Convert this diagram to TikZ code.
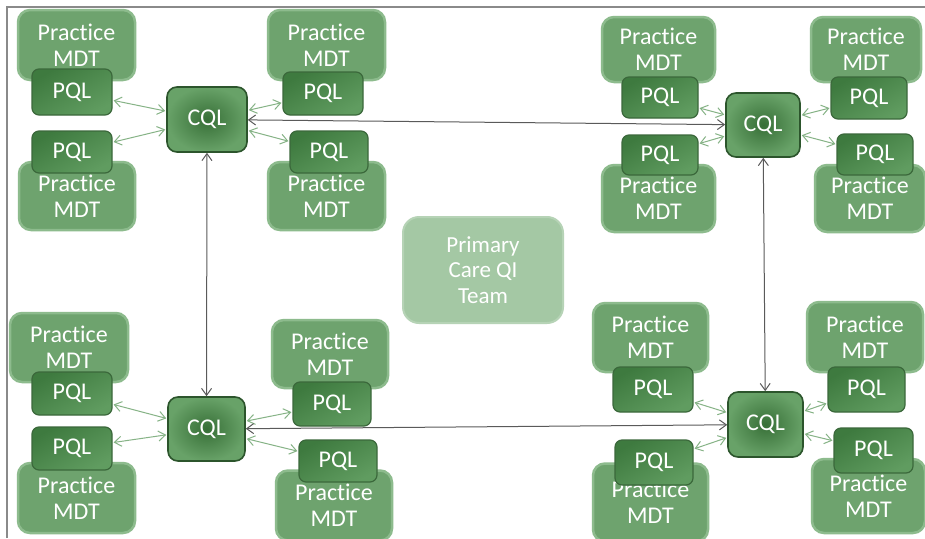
\documentclass[tikz,border=0pt]{standalone}
\usepackage{fontspec}
\setmainfont{Carlito}[Ligatures={NoCommon,NoRare,NoDiscretionary}]
\usetikzlibrary{arrows.meta}
\definecolor{mdtfill}{HTML}{6EA36E}
\definecolor{mdtedge}{HTML}{8DBB8D}
\definecolor{pqldark}{HTML}{3E7A3F}
\definecolor{pqllight}{HTML}{609C60}
\definecolor{pqledge}{HTML}{3B683B}
\definecolor{cqlin}{HTML}{376F37}
\definecolor{cqlout}{HTML}{68A268}
\definecolor{cqledge}{HTML}{2C552C}
\definecolor{teamfill}{HTML}{A4C8A4}
\definecolor{teamedge}{HTML}{B6D3B6}
\definecolor{linkgreen}{HTML}{86B386}
\definecolor{linkgray}{HTML}{5A5A5A}
\definecolor{framegray}{HTML}{8A8A8A}
\tikzset{
  boxtext/.style={text=white, align=center, inner sep=0pt,
    font=\fontsize{24}{26}\selectfont},
  mdt/.style={boxtext, fill=mdtfill, draw=mdtedge, line width=2.5pt,
    rounded corners=12pt},
  pql/.style={boxtext, draw=pqledge, line width=1.2pt, rounded corners=7pt,
    top color=pqldark, bottom color=pqllight, shading angle=30},
  cql/.style={boxtext, draw=cqledge, line width=1.6pt, rounded corners=10pt,
    inner color=cqlin, outer color=cqlout,
    minimum width=76pt, minimum height=64pt},
  team/.style={boxtext, fill=teamfill, draw=teamedge, line width=2pt,
    rounded corners=16pt, font=\fontsize{23}{25.5}\selectfont},
  pqlink/.style={draw=linkgreen, line width=1pt,
    {Straight Barb[length=7pt,width=10pt]}-{Straight Barb[length=7pt,width=10pt]}},
  cqlink/.style={draw=linkgray, line width=1pt,
    {Straight Barb[length=7pt,width=10pt]}-{Straight Barb[length=7pt,width=10pt]}},
}
\newcommand{\mdtbox}[5]{\node[mdt, minimum width=#4pt, minimum height=#5pt] (#1) at (#2,#3) {Practice\\MDT};}
\newcommand{\pqlbox}[5]{\node[pql, minimum width=#4pt, minimum height=#5pt] (#1) at (#2,#3) {PQL};}
\begin{document}
\begin{tikzpicture}[x=1pt, y=-1pt]
\useasboundingbox (0,0) rectangle (925,538);
\fill[white] (0,0) rectangle (925,538);
% outer frame (top and left edges)
\draw[framegray, line width=1.5pt] (7,538) -- (7,7) -- (925,7);

% ---------- group top left ----------
\mdtbox{m11}{76.5}{45}{117}{70}
\mdtbox{m12}{326.5}{45}{117}{70}
\mdtbox{m13}{77}{196}{116}{68}
\mdtbox{m14}{326.5}{196}{117}{68}
\pqlbox{p11}{72}{92}{80}{46}
\pqlbox{p12}{323}{93.5}{80}{43}
\pqlbox{p13}{72}{152}{80}{42}
\pqlbox{p14}{329}{152}{78}{42}
\node[cql, minimum width=80pt, minimum height=65pt] (c1) at (207,119.5) {CQL};

% ---------- group top right ----------
\mdtbox{m21}{658.5}{49.5}{113}{65}
\mdtbox{m22}{866}{49.5}{110}{65}
\mdtbox{m23}{658.5}{198.5}{113}{67}
\mdtbox{m24}{870}{198.5}{110}{67}
\pqlbox{p21}{660}{97.5}{76}{41}
\pqlbox{p22}{869}{98}{76}{42}
\pqlbox{p23}{660}{155}{76}{40}
\pqlbox{p24}{875}{154.5}{76}{41}
\node[cql, minimum width=74pt, minimum height=64pt] (c2) at (763,125) {CQL};

% ---------- group bottom left ----------
\mdtbox{m31}{69}{347.5}{118}{69}
\mdtbox{m32}{330}{354}{116}{68}
\mdtbox{m33}{76.5}{498}{117}{70}
\mdtbox{m34}{334}{505.5}{116}{70}
\pqlbox{p31}{72}{393.5}{80}{43}
\pqlbox{p32}{332}{404}{78}{44}
\pqlbox{p33}{72}{448.5}{80}{43}
\pqlbox{p34}{338}{461}{78}{42}
\node[cql, minimum width=77pt, minimum height=64pt] (c3) at (206.5,429) {CQL};

% ---------- group bottom right ----------
\mdtbox{m41}{650.5}{337.5}{115}{69}
\mdtbox{m42}{865}{337}{116}{70}
\mdtbox{m43}{650.5}{502.5}{115}{78}
\mdtbox{m44}{868.5}{496}{113}{74}
\pqlbox{p41}{653}{389.5}{80}{45}
\pqlbox{p42}{866.5}{389.5}{77}{45}
\pqlbox{p43}{654}{462.5}{78}{45}
\pqlbox{p44}{873.5}{450.5}{79}{45}
\node[cql, minimum width=75pt, minimum height=65pt] (c4) at (765.5,424.5) {CQL};

% ---------- central team ----------
\node[team, minimum width=160pt, minimum height=106pt] (team) at (483,270)
  {Primary\\Care QI\\Team};

% ---------- links between practice leads and cluster leads ----------
\foreach \g in {1,2,3,4}{
  \foreach \k in {1,2,3,4}{
    \draw[pqlink, shorten <=1pt, shorten >=1pt] (p\g\k) -- (c\g);
  }
}

% ---------- links between cluster leads ----------
\draw[cqlink] (c1) -- (c2);
\draw[cqlink] (c3) -- (c4);
\draw[cqlink] (c1) -- (c3);
\draw[cqlink] (c2) -- (c4);
\end{tikzpicture}
\end{document}
